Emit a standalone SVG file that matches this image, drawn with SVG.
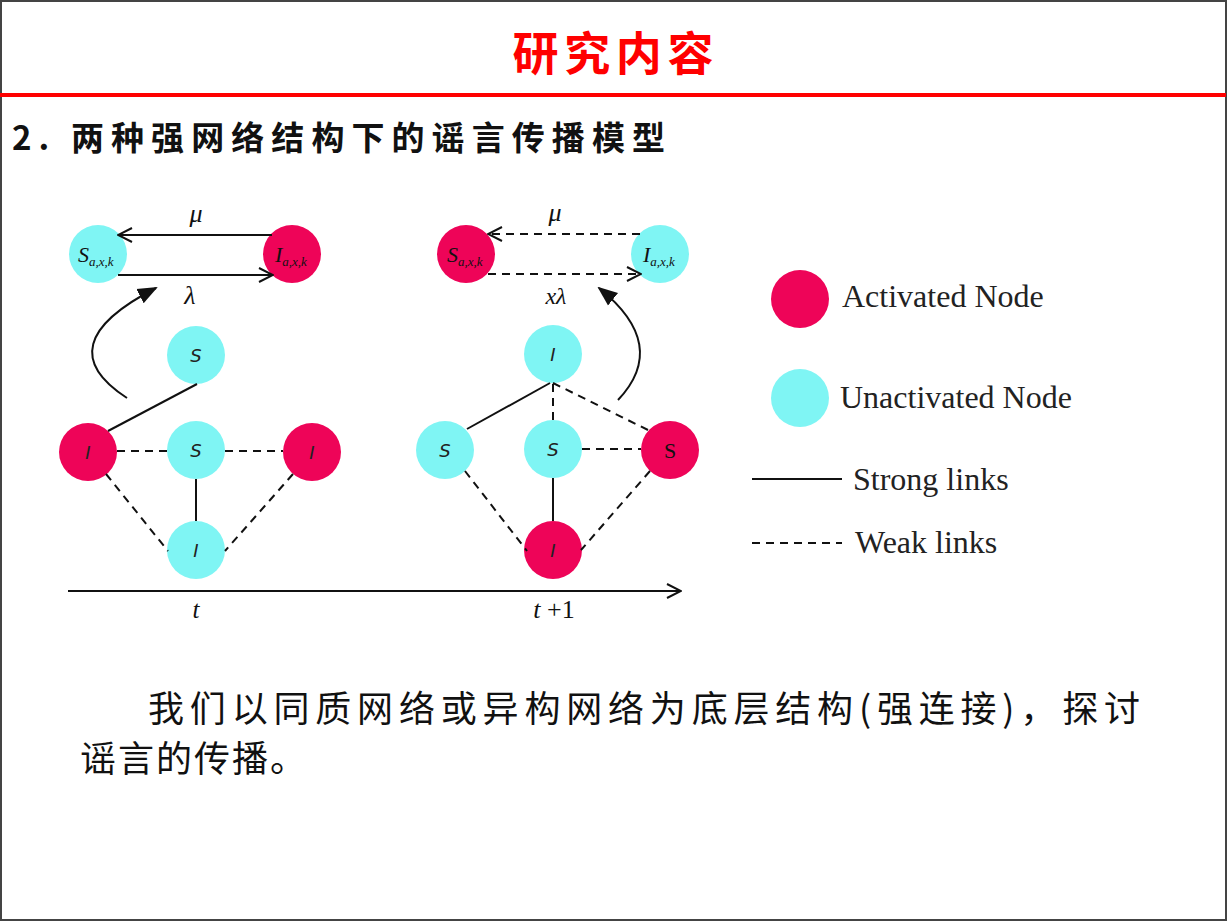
<svg xmlns="http://www.w3.org/2000/svg" width="1228" height="922" viewBox="0 0 1228 922">
<style>
.red{fill:#EE0458}
.cyan{fill:#7FF5F4}
.lbl{font-family:"DejaVu Sans","Liberation Sans",sans-serif;font-style:italic;font-size:18px;fill:#222;text-anchor:middle}
.mth{font-family:"Liberation Serif",serif;font-style:italic;fill:#111}
.up{font-style:normal}
.leg{font-family:"Liberation Serif",serif;font-size:32px;fill:#222}
.solid{stroke:#111;stroke-width:2;fill:none}
.dash{stroke:#111;stroke-width:2;fill:none;stroke-dasharray:8,6}
.cjk{font-family:"Noto Sans CJK SC","Noto Sans CJK TC",sans-serif}
</style>
<defs>
<marker id="open" viewBox="0 0 16 16" refX="15" refY="8" markerWidth="16" markerHeight="16" markerUnits="userSpaceOnUse" orient="auto">
<path d="M1,1 L15,8 L1,15" fill="none" stroke="#111" stroke-width="2"/>
</marker>
<marker id="fill" viewBox="0 0 20 20" refX="18" refY="10" markerWidth="20" markerHeight="20" markerUnits="userSpaceOnUse" orient="auto">
<path d="M0,2 L20,10 L0,18 Z" fill="#111"/>
</marker>
</defs>
<rect x="0" y="0" width="1228" height="922" fill="#fff"/>
<rect x="1" y="1" width="1225" height="919" fill="none" stroke="#444" stroke-width="2"/>
<text x="613" y="70" text-anchor="middle" class="cjk" font-size="46" font-weight="bold" fill="#FF0000" textLength="201" lengthAdjust="spacing">研究内容</text>
<rect x="0" y="93" width="1226" height="4" fill="#FF0000"/>
<text x="12" y="150" class="cjk" font-size="33" font-weight="bold" fill="#111" textLength="653" lengthAdjust="spacing">2. 两种强网络结构下的谣言传播模型</text>

<text class="mth" x="196" y="222" font-size="26" text-anchor="middle">μ</text>
<text class="mth" x="190" y="304" font-size="26" text-anchor="middle">λ</text>
<text class="mth" x="555" y="221" font-size="26" text-anchor="middle">μ</text>
<text class="mth" x="556" y="304" font-size="24" text-anchor="middle">xλ</text>
<text class="mth" x="196" y="618" font-size="25" text-anchor="middle">t</text>
<text class="mth" x="554" y="618" font-size="26" text-anchor="middle">t<tspan class="up"> +1</tspan></text>

<g id="sa_left"><circle class="cyan" cx="98" cy="254" r="29"/><text class="mth" x="78" y="262" font-size="22">S<tspan font-size="13" dy="4">a,x,k</tspan></text></g>
<g id="ia_left"><circle class="red" cx="292" cy="254" r="29"/><text class="mth" x="275" y="262" font-size="22">I<tspan font-size="13" dy="4">a,x,k</tspan></text></g>
<g id="sa_right"><circle class="red" cx="466" cy="254" r="29"/><text class="mth" x="447" y="262" font-size="22">S<tspan font-size="13" dy="4">a,x,k</tspan></text></g>
<g id="ia_right"><circle class="cyan" cx="660" cy="254" r="29"/><text class="mth" x="643" y="262" font-size="22">I<tspan font-size="13" dy="4">a,x,k</tspan></text></g>

<g id="l_top"><circle class="cyan" cx="196" cy="355" r="29"/><text class="lbl" x="196" y="362">S</text></g>
<g id="l_left"><circle class="red" cx="88" cy="452" r="29"/><text class="lbl" x="88" y="459">I</text></g>
<g id="l_center"><circle class="cyan" cx="196" cy="450" r="29"/><text class="lbl" x="196" y="457">S</text></g>
<g id="l_right"><circle class="red" cx="312" cy="452" r="29"/><text class="lbl" x="312" y="459">I</text></g>
<g id="l_bottom"><circle class="cyan" cx="196" cy="550" r="29"/><text class="lbl" x="196" y="557">I</text></g>

<g id="r_top"><circle class="cyan" cx="553" cy="354" r="29"/><text class="lbl" x="553" y="361">I</text></g>
<g id="r_left"><circle class="cyan" cx="445" cy="450" r="29"/><text class="lbl" x="445" y="457">S</text></g>
<g id="r_center"><circle class="cyan" cx="553" cy="449" r="29"/><text class="lbl" x="553" y="456">S</text></g>
<g id="r_right"><circle class="red" cx="670" cy="450" r="29"/><text class="mth up" x="670" y="458" font-size="22" text-anchor="middle">S</text></g>
<g id="r_bottom"><circle class="red" cx="553" cy="550" r="29"/><text class="lbl" x="553" y="557">I</text></g>

<g id="legend">
<circle class="red" cx="800" cy="299" r="29"/>
<text class="leg" x="842" y="307">Activated Node</text>
<circle class="cyan" cx="800" cy="398" r="29"/>
<text class="leg" x="840" y="408">Unactivated Node</text>
<text class="leg" x="853" y="490">Strong links</text>
<text class="leg" x="855" y="553">Weak links</text>
</g>

<g id="connectors">
<line class="solid" x1="272" y1="235" x2="118" y2="235" marker-end="url(#open)"/>
<line class="solid" x1="118" y1="275" x2="273" y2="275" marker-end="url(#open)"/>
<line class="dash" x1="640" y1="234" x2="488" y2="234" marker-end="url(#open)"/>
<line class="dash" x1="488" y1="274" x2="641" y2="274" marker-end="url(#open)"/>
<path class="solid" d="M127,398 Q45,345 156,288" marker-end="url(#fill)"/>
<path class="solid" d="M618,400 Q670,345 599,288" marker-end="url(#fill)"/>
<line class="solid" x1="197" y1="384" x2="108" y2="431"/>
<line class="dash" x1="117" y1="451" x2="167" y2="451"/>
<line class="dash" x1="225" y1="451" x2="283" y2="451"/>
<line class="solid" x1="196" y1="479" x2="196" y2="521"/>
<line class="dash" x1="106" y1="474" x2="168" y2="551"/>
<line class="dash" x1="293" y1="474" x2="225" y2="551"/>
<line class="solid" x1="550" y1="383" x2="467" y2="429"/>
<line class="dash" x1="553" y1="384" x2="553" y2="420"/>
<line class="dash" x1="553" y1="383" x2="648" y2="430"/>
<line class="dash" x1="582" y1="449" x2="641" y2="449"/>
<line class="solid" x1="553" y1="478" x2="553" y2="521"/>
<line class="dash" x1="465" y1="471" x2="527" y2="551"/>
<line class="dash" x1="650" y1="471" x2="581" y2="550"/>
<line class="solid" x1="68" y1="591" x2="681" y2="591" marker-end="url(#open)"/>
<line class="solid" x1="752" y1="479" x2="842" y2="479"/>
<line class="dash" x1="752" y1="543" x2="842" y2="543" stroke-dasharray="7,5"/>
</g>

<text x="148" y="722" class="cjk" font-size="36" fill="#111" textLength="992" lengthAdjust="spacing">我们以同质网络或异构网络为底层结构(强连接)，探讨</text>
<text x="80" y="772" class="cjk" font-size="36" fill="#111" textLength="226" lengthAdjust="spacing">谣言的传播。</text>
</svg>
